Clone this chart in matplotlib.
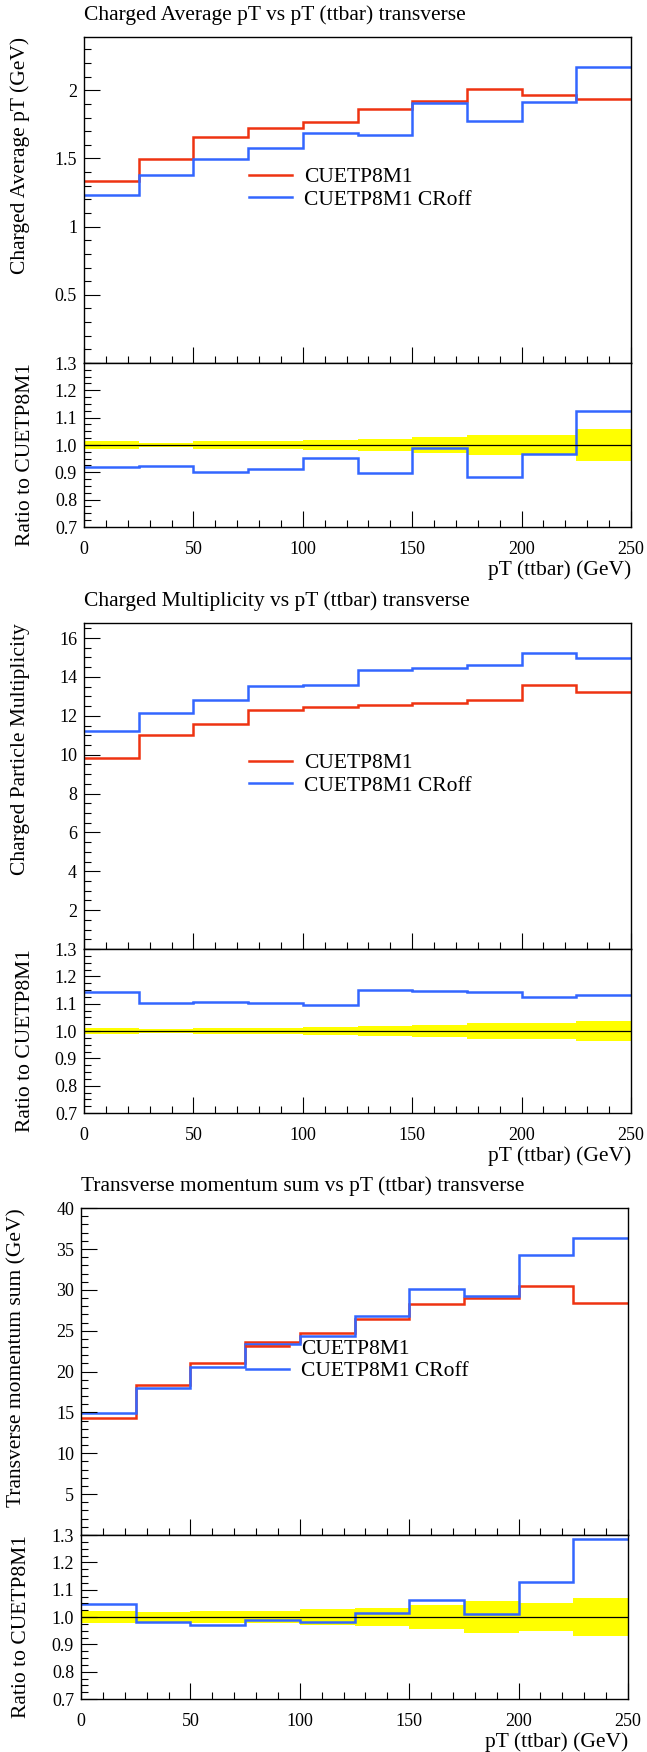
import matplotlib
matplotlib.use('Agg')
import matplotlib.pyplot as plt
from matplotlib.ticker import MultipleLocator

plt.rcParams['font.family'] = ['Liberation Serif', 'DejaVu Serif']
plt.rcParams['font.size'] = 15

# pT (ttbar) bin edges, GeV
edges = [0, 25, 50, 75, 100, 125, 150, 175, 200, 225, 250]
names = ['CUETP8M1', 'CUETP8M1 CRoff']
red = '#ee3311'
blue = '#3366ff'

# panel 1: charged average pT
avgpt_nom = [1.334, 1.493, 1.654, 1.724, 1.766, 1.859, 1.920, 2.010, 1.968, 1.937]
avgpt_croff = [1.229, 1.380, 1.498, 1.573, 1.688, 1.673, 1.907, 1.778, 1.912, 2.173]
avgpt_ratio = [0.918, 0.922, 0.902, 0.912, 0.952, 0.898, 0.988, 0.883, 0.968, 1.126]
avgpt_band = [0.015, 0.009, 0.013, 0.016, 0.019, 0.023, 0.028, 0.035, 0.035, 0.060]

# panel 2: charged multiplicity
mult_nom = [9.84, 11.00, 11.56, 12.30, 12.47, 12.53, 12.64, 12.81, 13.59, 13.20]
mult_croff = [11.22, 12.12, 12.81, 13.52, 13.59, 14.38, 14.46, 14.62, 15.25, 14.96]
mult_ratio = [1.141, 1.102, 1.107, 1.104, 1.096, 1.151, 1.146, 1.141, 1.123, 1.131]
mult_band = [0.012, 0.009, 0.011, 0.012, 0.015, 0.018, 0.023, 0.028, 0.031, 0.038]

# panel 3: transverse momentum sum
ptsum_nom = [14.33, 18.40, 21.10, 23.60, 24.70, 26.45, 28.32, 29.00, 30.44, 28.40]
ptsum_croff = [14.98, 18.03, 20.55, 23.40, 24.34, 26.78, 30.11, 29.30, 34.30, 36.38]
ptsum_ratio = [1.047, 0.980, 0.970, 0.989, 0.982, 1.015, 1.064, 1.011, 1.127, 1.286]
ptsum_band = [0.021, 0.020, 0.021, 0.023, 0.028, 0.033, 0.045, 0.057, 0.053, 0.070]

titles = ['Charged Average pT vs pT (ttbar) transverse',
          'Charged Multiplicity vs pT (ttbar) transverse',
          'Transverse momentum sum vs pT (ttbar) transverse']
ylabels = ['Charged Average pT (GeV)', 'Charged Particle Multiplicity',
           'Transverse momentum sum (GeV)']
main_ticks = [[0.5, 1, 1.5, 2], [2, 4, 6, 8, 10, 12, 14, 16],
              [5, 10, 15, 20, 25, 30, 35, 40]]
main_minor = [0.1, 0.5, 1]
ratio_ticks = [0.7, 0.8, 0.9, 1.0, 1.1, 1.2, 1.3]

panels = [
    (avgpt_nom, avgpt_croff, avgpt_ratio, avgpt_band),
    (mult_nom, mult_croff, mult_ratio, mult_band),
    (ptsum_nom, ptsum_croff, ptsum_ratio, ptsum_band),
]
# frame boxes in pixels: left, top, split, bottom, right
boxes = [(84, 37, 363, 527, 631), (84, 623, 949, 1113, 631), (81, 1208, 1535, 1699, 628)]
# x pixel of the y labels (right side of the rotated text)
main_label_x = [30, 30, 26]
ratio_label_x = [35, 35, 31]

W, H = 647, 1752
fig = plt.figure(figsize=(W / 100, H / 100), dpi=100)


def add_px_axes(left, top, right, bottom):
    return fig.add_axes([left / W, 1 - bottom / H, (right - left) / W, (bottom - top) / H])


def style_ticks(ax):
    ax.tick_params(which='both', direction='in', top=False, right=False, width=0.8)
    ax.tick_params(which='major', length=11.5, labelsize=13, pad=5)
    ax.tick_params(which='minor', length=5)
    ax.xaxis.set_major_locator(MultipleLocator(50))
    ax.xaxis.set_minor_locator(MultipleLocator(10))
    for s in ax.spines.values():
        s.set_linewidth(1.0)


for i, (nom, croff, ratio, band) in enumerate(panels):
    left, top, mid, bottom, right = boxes[i]
    width = right - left
    ax = add_px_axes(left, top, right, mid)
    rx = add_px_axes(left, mid, right, bottom)

    ax.stairs(nom, edges, baseline=None, color=red, lw=1.8, label=names[0])
    ax.stairs(croff, edges, baseline=None, color=blue, lw=1.8, label=names[1])
    ax.set_xlim(0, 250)
    ax.set_ylim(0, 1.1 * max(max(nom), max(croff)))
    ax.set_yticks(main_ticks[i], labels=['%g' % v for v in main_ticks[i]])
    ax.yaxis.set_minor_locator(MultipleLocator(main_minor[i]))
    style_ticks(ax)
    ax.tick_params(labelbottom=False)
    ax.set_title(titles[i], loc='left', pad=12, fontsize=15.5)
    ax.set_ylabel(ylabels[i], loc='top', fontsize=15.5)
    ax.yaxis.set_label_coords((main_label_x[i] - left) / width, 1.0)
    ax.legend(loc='upper left', bbox_to_anchor=(0.302, 0.6), frameon=False,
              fontsize=15.5, handlelength=2.0, handletextpad=0.55, labelspacing=0.1,
              borderpad=0, borderaxespad=0)

    lo = [1 - b for b in band]
    hi = [1 + b for b in band]
    rx.stairs(hi, edges, baseline=lo, fill=True, color='#ffff00', lw=0)
    rx.axhline(1.0, color='black', lw=0.9)
    rx.stairs(ratio, edges, baseline=None, color=blue, lw=1.8)
    rx.set_xlim(0, 250)
    rx.set_ylim(0.7, 1.3)
    rx.set_yticks(ratio_ticks, labels=['%.1f' % v for v in ratio_ticks])
    rx.yaxis.set_minor_locator(MultipleLocator(0.025))
    style_ticks(rx)
    rx.tick_params(axis='x', which='major', pad=10)
    rx.set_ylabel('Ratio to CUETP8M1', loc='top', fontsize=15.5)
    rx.yaxis.set_label_coords((ratio_label_x[i] - left) / width, 1.0)
    rx.set_xlabel('pT (ttbar) (GeV)', loc='right', fontsize=15.5)
    rx.xaxis.set_label_coords(1.0, -33 / (bottom - mid))

fig.savefig('out.png', dpi=100)
